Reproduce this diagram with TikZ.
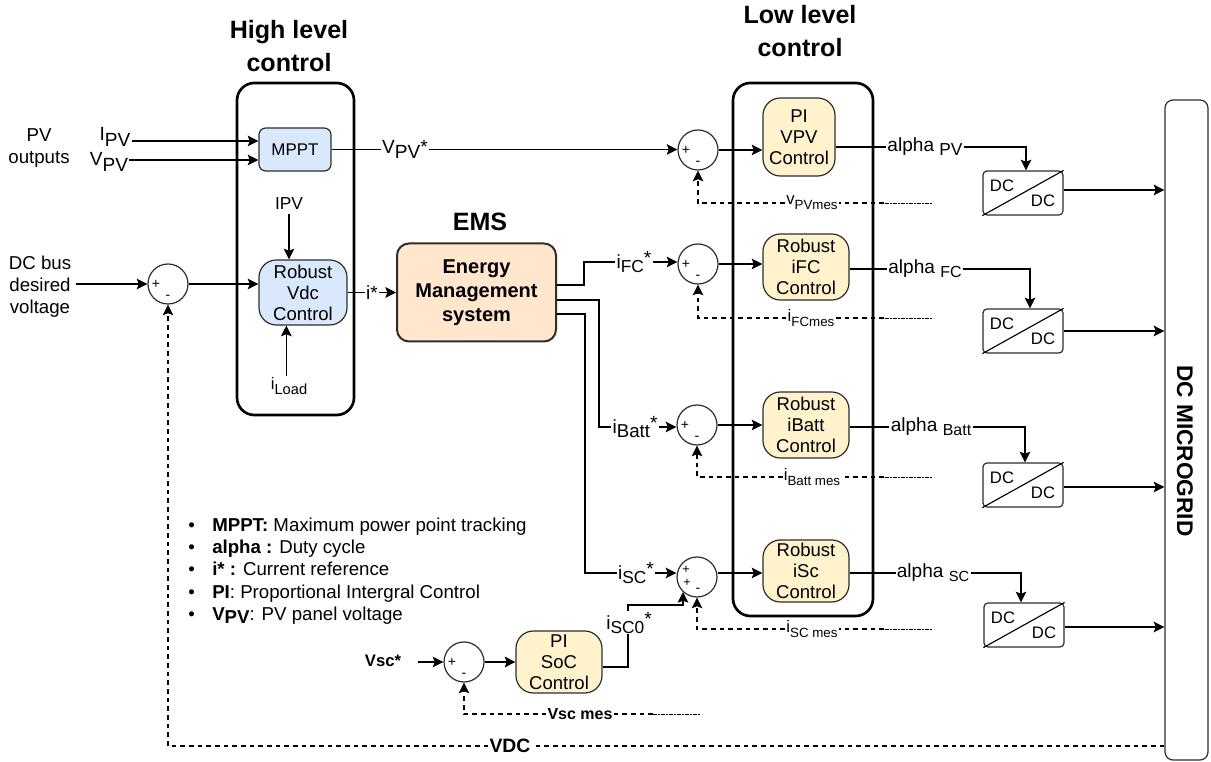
\documentclass[tikz,border=0pt]{standalone}
\usepackage{fontspec}
\setmainfont{Liberation Sans}
\usetikzlibrary{arrows.meta,positioning,calc}
\definecolor{qblue}{RGB}{218,232,252}
\definecolor{qyellow}{RGB}{255,242,204}
\definecolor{qpeach}{RGB}{255,230,204}
\definecolor{qline}{RGB}{45,45,45}
% main letter, lowered index, size of the index
\newcommand{\sublab}[3]{#1\raisebox{-3.5pt}{\fontsize{#3}{#3}\selectfont #2}}
\newcommand{\alphalab}[2]{alpha \raisebox{-2.5pt}{\fontsize{#2}{#2}\selectfont #1}}
\newcommand{\fsize}[1]{\fontsize{#1}{#1}\selectfont}

\begin{document}
\begin{tikzpicture}[
    x=0.75pt, y=-0.75pt,
    group/.style={draw=black, line width=2pt, rounded corners=13pt, minimum width=#1},
    ctl/.style={draw=qline, line width=0.9pt, inner sep=0pt, align=center,
                font=\fontsize{13.9}{15.75}\selectfont},
    sumnode/.style={circle, draw=qline, line width=0.9pt, fill=white, inner sep=0pt, minimum size=30pt},
    sign/.style={inner sep=0pt, font=\fsize{10.5}},
    conv/.style={draw=qline, line width=0.9pt, rounded corners=3pt, minimum width=60pt,
                 minimum height=33pt, inner sep=0pt},
    txt/.style={inner sep=0.8pt, align=center, font=\fontsize{14}{16}\selectfont},
    lab/.style={inner sep=0.8pt, font=\fsize{14.3}},
    mes/.style={inner sep=0.8pt, font=\fsize{12.5}},
    title/.style={inner sep=0pt, align=center, font=\fontsize{18.8}{24.5}\selectfont\bfseries},
    wire/.style={line width=0.85pt, draw=black},
    arr/.style={wire, -{Stealth[length=8pt,width=8pt,inset=1.5pt]}},
    fbk/.style={line width=0.8pt, dash pattern=on 3.5pt off 3pt},
    fbkarr/.style={fbk, -{Stealth[length=8pt,width=8pt,inset=1.5pt]}},
    fine/.style={line width=0.7pt, dash pattern=on 1.6pt off 0.4pt}
]
\useasboundingbox (0,0) rectangle (1211,762);

% Control groups
\node[group=87.75pt, minimum height=249pt] (high) at (295.5,249) {};
\node[group=105pt, minimum height=399.75pt] (low) at (803,349.5) {};
\node[title] (hightitle) at (289,46) {High level\\control};
\node[title] (lowtitle) at (800,31) {Low level\\control};
\node[title] (emstitle) at (480,222) {EMS};

% Blocks
\node[ctl, fill=qblue, rounded corners=5pt, minimum width=54pt, minimum height=32.25pt, font=\fsize{12.7}] (mppt) at (295,149.5) {MPPT};
\node[ctl, fill=qblue, rounded corners=13pt, minimum width=66pt, minimum height=48.75pt] (vdc) at (303,292.5) {Robust\\Vdc\\Control};
\node[draw=qline, line width=1.5pt, fill=qpeach, rounded corners=9pt, minimum width=119.25pt, minimum height=73.5pt,
      inner sep=0pt, align=center, font=\fontsize{15}{18}\selectfont\bfseries] (energy) at (476.5,292.5) {Energy\\Management\\system};
\node[ctl, fill=qyellow, rounded corners=13pt, minimum width=54pt, minimum height=58.5pt] (pvctl) at (799,137) {PI\\VPV\\Control};
\node[ctl, fill=qyellow, rounded corners=13pt, minimum width=64.5pt, minimum height=49.5pt] (fcctl) at (806,267) {Robust\\iFC\\Control};
\node[ctl, fill=qyellow, rounded corners=13pt, minimum width=64.5pt, minimum height=49.5pt] (battctl) at (806,425) {Robust\\iBatt\\Control};
\node[ctl, fill=qyellow, rounded corners=13pt, minimum width=64.5pt, minimum height=46.5pt] (scctl) at (806,571) {Robust\\iSc\\Control};
\node[ctl, fill=qyellow, rounded corners=13pt, minimum width=64.5pt, minimum height=46.5pt] (socctl) at (559,662) {PI\\SoC\\Control};
\node[draw=qline, line width=0.9pt, rounded corners=6pt, minimum width=32.25pt, minimum height=495pt] (grid) at (1186.5,430) {};
\node[rotate=-90, inner sep=0pt, font=\fsize{17}\bfseries] (gridlab) at (1185,451) {DC MICROGRID};

% Sum points
\foreach \name/\x/\y in {sdc/168/284, spv/698/150, sfc/698/264, sbatt/697/425, ssoc/464/662} {
    \node[sumnode] (\name) at (\x,\y) {};
    \node[sign] (\name plus) at (\x-12,\y) {+};
    \node[sign] (\name minus) at (\x,\y+13) {-};
}
\node[sumnode] (ssc) at (697,577) {};
\node[sign, font=\fsize{9.5}] (ssc plus) at (686,570) {+};
\node[sign, font=\fsize{9.5}] (ssc plustwo) at (687,583) {+};
\node[sign] (ssc minus) at (698,590) {-};

% Converters
\foreach \name/\x/\y in {dcpv/1023/193, dcfc/1023/331, dcbatt/1023/485, dcsc/1024/625} {
    \node[conv] (\name) at (\x,\y) {};
    \draw[wire] (\name.south west) -- (\name.north east);
    \node[inner sep=0pt, font=\fsize{12.5}] (\name top) at (\x-21,\y-7) {DC};
    \node[inner sep=0pt, font=\fsize{12.5}] (\name bot) at (\x+20,\y+8) {DC};
}

% Labels
\node[txt] (pvout) at (39,148) {PV\\outputs};
\node[lab] (ilab) at (115,137) {\raisebox{3pt}{I}\raisebox{-2pt}{PV}};
\node[lab] (vlab) at (109,162) {\raisebox{2pt}{V}\raisebox{-2pt}{PV}};
\node[txt, inner xsep=3.75pt, font=\fontsize{14}{16.5}\selectfont] (buslab) at (40,287) {DC bus\\desired\\voltage};
\node[txt, inner sep=3pt, font=\fsize{13}] (ipvlab) at (289,204) {IPV};
\node[mes] (loadlab) at (289,386) {\sublab{i}{Load}{11}};
\node[lab] (vstar) at (405,149.5) {\raisebox{2pt}{V}\raisebox{-2pt}{PV}\raisebox{2pt}{*}};
\node[lab] (istar) at (372,292.5) {i*};
\node[lab] (ifclab) at (634,262) {\sublab{i}{FC}{13}\raisebox{3pt}{*}};
\node[lab] (ibattlab) at (635,427) {\sublab{i}{Batt}{14}\raisebox{3pt}{*}};
\node[lab] (isclab) at (636,573) {\sublab{i}{SC}{13}\raisebox{3pt}{*}};
\node[lab, inner sep=2pt] (isczero) at (629,623) {\sublab{i}{SC0}{13}\raisebox{3pt}{*}};
\node[lab] (alphapv) at (925,147) {\alphalab{PV}{13}};
\node[lab] (alphafc) at (925,269) {\alphalab{FC}{12}};
\node[lab] (alphabatt) at (931,427) {\alphalab{Batt}{12}};
\node[lab] (alphasc) at (933,573) {\alphalab{SC}{11}};
\node[mes] (vpvmes) at (812,203) {\sublab{v}{PVmes}{10}};
\node[mes] (ifcmes) at (811,318) {\sublab{i}{FCmes}{10}};
\node[mes] (ibattmes) at (812,477) {\sublab{i}{Batt mes}{10}};
\node[mes] (iscmes) at (812,629) {\sublab{i}{SC mes}{10}};
\node[inner sep=0.8pt, font=\fsize{12.5}\bfseries] (vsclab) at (383,661) {Vsc*};
\node[inner sep=0.8pt, font=\fsize{12}\bfseries] (vscmes) at (580,714) {Vsc mes};
\node[inner sep=0.8pt, font=\fsize{14.5}\bfseries] (vdclab) at (510,746) {VDC};
\coordinate (vscin) at (418,662);

% Legend
\node[inner sep=0pt, align=left, anchor=west, font=\fontsize{14}{16.8}\selectfont] (legend) at (188,571) {%
    \makebox[18pt][l]{\textbullet}\textbf{MPPT:} Maximum power point tracking\\
    \makebox[18pt][l]{\textbullet}\textbf{alpha :} Duty cycle\\
    \makebox[18pt][l]{\textbullet}\textbf{i* :} Current reference\\
    \makebox[18pt][l]{\textbullet}\textbf{PI}: Proportional Intergral Control\\
    \makebox[18pt][l]{\textbullet}\textbf{V\raisebox{-2pt}{PV}}: PV panel voltage};

% High level signals
\draw[arr] (ilab.east |- 0,141) -- (mppt.west |- 0,141);
\draw[arr] (vlab.east |- 0,160) -- (mppt.west |- 0,160);
\draw[arr] (buslab.east |- sdc) -- (sdc.west);
\draw[arr] (sdc.east) -- (sdc.east -| vdc.west);
\draw[arr] (ipvlab) -- (ipvlab |- vdc.north);
\draw[arr] ([xshift=-2pt]loadlab.north) -- ([xshift=-2pt]loadlab.north |- vdc.south);
\draw[wire] (mppt) -- (vstar);
\draw[arr] (vstar) -- (vstar -| spv.west);
\draw[wire] (vdc) -- (istar);
\draw[arr] (istar) -- (energy);

% Current references
\draw[wire] (energy.east |- 0,285) -- (584,285) -- (584,262) -- (ifclab);
\draw[arr] (ifclab) -- (ifclab -| sfc.west);
\draw[wire] (energy.east |- 0,300) -- (599,300) -- (599,427) -- (ibattlab);
\draw[arr] (ibattlab) -- (ibattlab -| sbatt.west);
\draw[wire] (energy.east |- 0,314) -- (585,314) -- (585,573) -- (isclab);
\draw[arr] (isclab) -- (isclab -| ssc.west);

% Sum points to controllers
\draw[arr] (spv.east) -- (spv.east -| pvctl.west);
\draw[arr] (sfc.east) -- (sfc.east -| fcctl.west);
\draw[arr] (sbatt.east) -- (sbatt.east -| battctl.west);
\draw[arr] (ssc.east |- isclab) -- (isclab -| scctl.west);

% Duty cycles
\draw[wire] (pvctl.east |- alphapv) -- (alphapv);
\draw[wire] (fcctl.east |- alphafc) -- (alphafc);
\draw[wire] (battctl.east |- alphabatt) -- (alphabatt);
\draw[wire] (scctl.east |- alphasc) -- (alphasc);
\draw[arr] (alphapv) -| ([xshift=2.25pt]dcpv.north);
\draw[arr] (alphafc) -| ([xshift=5.25pt]dcfc.north);
\draw[arr] (alphabatt) -| ([xshift=1.5pt]dcbatt.north);
\draw[arr] (alphasc) -| ([xshift=-2.25pt]dcsc.north);
\foreach \name/\yy in {dcpv/190, dcfc/331, dcbatt/487, dcsc/627}
    \draw[arr] (\name.east |- 0,\yy) -- (grid.west |- 0,\yy);

% Measurements
\foreach \name/\target/\yy in {vpvmes/spv/203, ifcmes/sfc/318, ibattmes/sbatt/477, iscmes/ssc/629} {
    \coordinate (\name mid) at (884,\yy);
    \coordinate (\name end) at (932,\yy);
    \draw[fine] (\name end) -- (\name mid);
    \draw[fbk] (\name mid) -- (\name);
    \draw[fbkarr] (\name) -| (\target.south);
}

% SoC loop
\draw[arr] (vscin) -- (ssoc.west);
\draw[arr, line width=1.2pt] (ssoc.east) -- (socctl.west);
\draw[wire] (socctl.east |- 0,667) -- (628,667) -- (628,634);
\draw[arr] (628,611) -- (628,605) -- (683,605) -- (683,592);
\coordinate (socend) at (700,714);
\coordinate (socmid) at (653,714);
\draw[fine] (socend) -- (socmid);
\draw[fbk] (socmid) -- (vscmes);
\draw[fbkarr] (vscmes) -| (ssoc.south);

% Bus voltage
\draw[fbk] (grid.west |- vdclab) -- (vdclab);
\draw[fbkarr] (vdclab) -| (sdc.south);

\end{tikzpicture}
\end{document}
